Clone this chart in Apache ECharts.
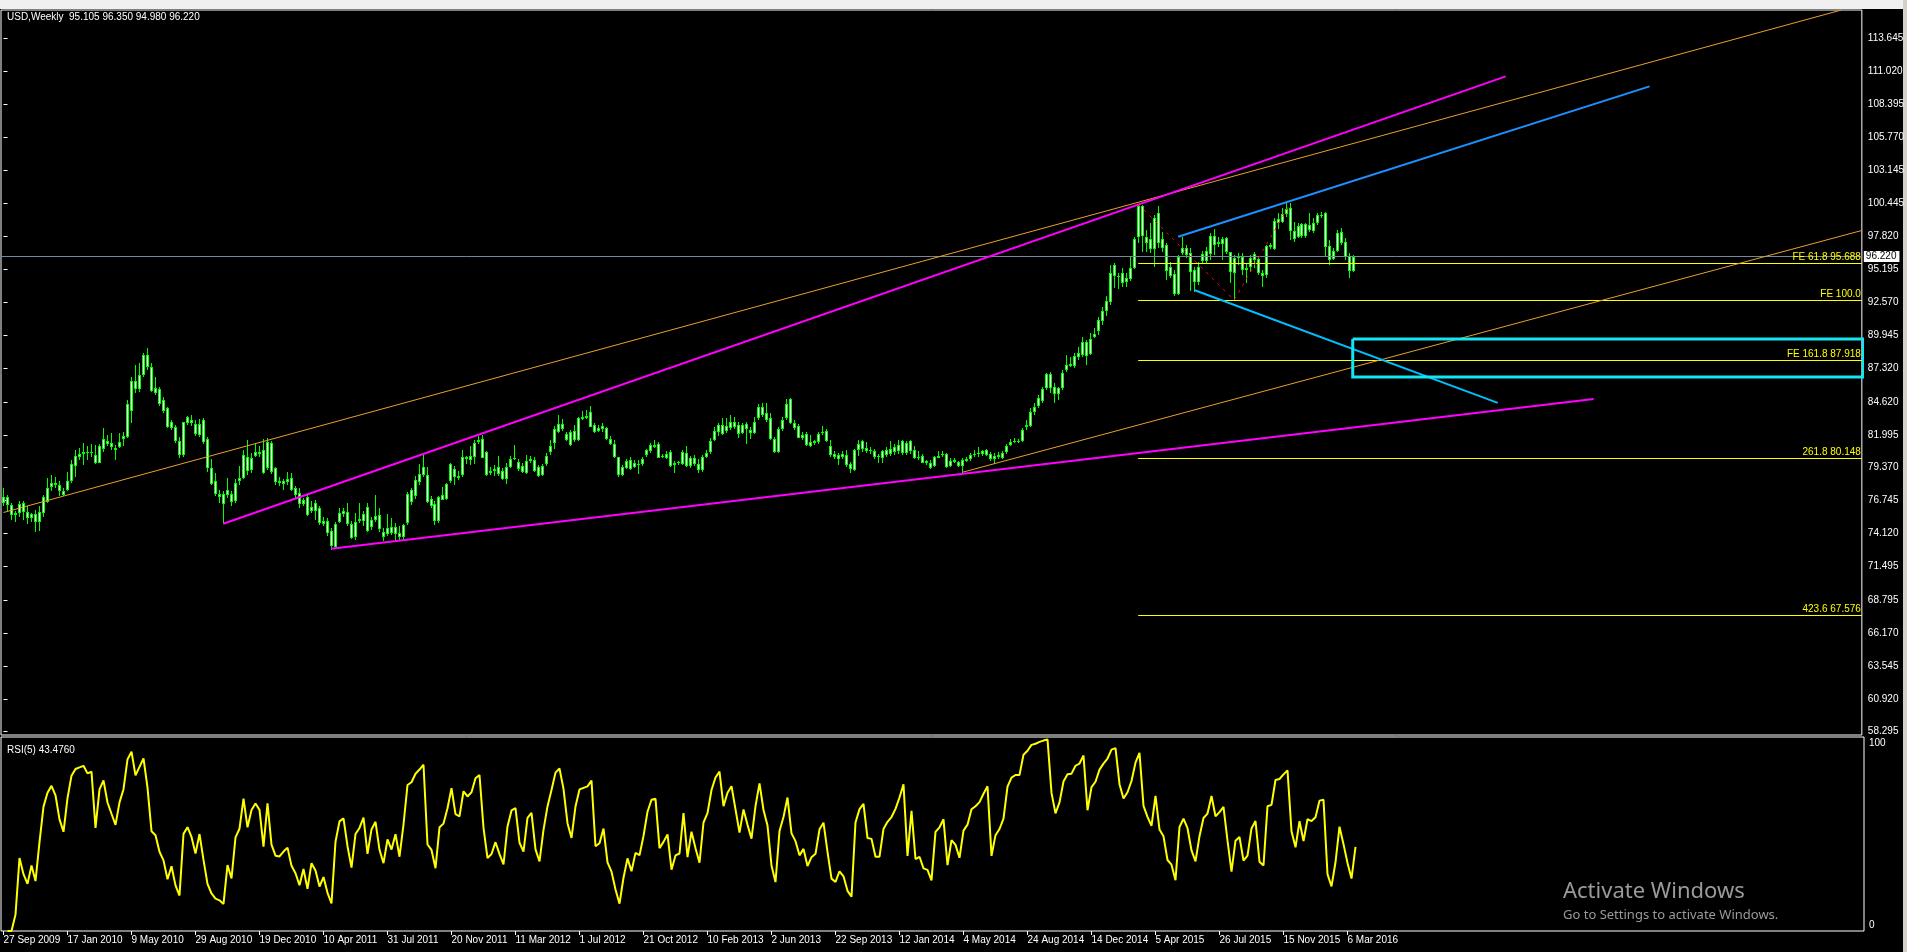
<!DOCTYPE html>
<html>
<head>
<meta charset="utf-8">
<script src="https://cdn.jsdelivr.net/npm/echarts@6/dist/echarts.min.js"></script>
<style>
html,body{margin:0;padding:0;background:#000;}
#chart{width:1907px;height:952px;}
</style>
</head>
<body>
<div id="chart"></div>
<script>
// ---- Data (USD index, weekly, 27 Sep 2009 .. 20 Mar 2016) ----
const dateLabels = ['27 Sep 2009','17 Jan 2010','9 May 2010','29 Aug 2010','19 Dec 2010','10 Apr 2011','31 Jul 2011','20 Nov 2011','11 Mar 2012','1 Jul 2012','21 Oct 2012','10 Feb 2013','2 Jun 2013','22 Sep 2013','12 Jan 2014','4 May 2014','24 Aug 2014','14 Dec 2014','5 Apr 2015','26 Jul 2015','15 Nov 2015','6 Mar 2016'];
const barsPerDateLabel = 16;
const priceTicks = [58.295,60.920,63.545,66.170,68.795,71.495,74.120,76.745,79.370,81.995,84.620,87.320,89.945,92.570,95.195,97.820,100.445,103.145,105.770,108.395,111.020,113.645];

const opens = [
76.54,77.02,76.35,75.61,75.74,76.54,75.82,75.39,75.66,75.07,
75.74,76.64,77.79,78.13,77.95,77.49,77.55,78.27,79.54,80.26,
80.42,80.60,80.50,80.36,79.78,80.84,81.53,81.32,80.90,81.00,
81.64,81.80,83.90,86.29,85.65,86.77,88.37,87.44,85.71,85.65,
84.78,84.11,82.52,82.60,81.53,80.34,82.97,83.18,82.84,81.99,
83.18,81.67,79.33,78.27,77.25,77.28,77.15,77.25,76.67,78.27,
78.53,80.26,79.15,80.31,80.63,80.79,79.33,81.32,79.33,78.27,
78.05,78.19,78.53,77.73,77.33,76.46,77.02,75.87,76.54,76.14,
74.86,75.13,74.33,73.00,75.07,75.66,75.82,74.89,73.80,75.08,
75.13,76.22,74.60,75.16,75.58,74.23,74.07,74.62,74.07,74.15,
73.80,74.94,76.59,77.07,78.19,78.77,78.77,76.86,76.46,75.13,
76.80,76.86,78.27,79.28,78.72,78.77,80.21,79.99,80.26,81.38,
81.64,80.60,79.12,79.12,79.41,79.14,78.45,79.46,80.05,79.81,
79.54,78.93,79.91,79.99,79.41,78.80,79.67,80.60,81.32,82.23,
82.84,82.04,82.20,81.59,81.54,83.26,83.32,82.65,82.78,82.52,
82.49,82.52,81.64,81.27,80.21,78.80,79.38,79.99,79.46,79.59,
79.67,80.34,80.66,80.98,81.24,80.21,80.18,80.60,79.59,79.73,
79.67,80.52,79.52,80.13,79.67,79.20,80.21,80.58,81.59,82.20,
82.78,82.31,82.52,83.02,82.78,82.17,82.84,82.39,82.17,83.32,
84.19,83.71,83.37,81.67,80.58,82.47,83.37,84.86,82.92,82.73,
81.77,82.07,81.11,81.32,81.38,82.12,82.31,81.11,80.45,80.05,
80.47,80.39,79.65,79.20,80.79,80.87,80.95,80.79,80.68,80.31,
80.18,80.34,80.42,80.58,80.66,80.52,81.32,80.66,80.79,80.23,
80.31,79.91,79.73,79.54,80.18,80.34,80.47,79.54,79.99,79.81,
79.54,79.94,80.07,80.39,80.45,80.45,80.39,80.47,80.07,80.21,
80.18,80.58,81.19,81.38,81.38,81.46,82.60,82.73,83.79,84.30,
84.72,85.71,86.82,85.84,85.26,85.76,87.17,87.51,87.51,88.18,
88.37,89.43,88.45,89.83,90.31,91.08,91.90,92.62,94.67,94.67,
94.88,94.16,94.40,95.33,97.75,100.25,97.75,97.59,96.79,99.66,
97.59,97.14,95.36,94.80,93.23,96.47,96.87,96.47,95.14,94.21,
95.89,95.89,96.42,97.88,97.19,97.19,97.67,96.55,94.88,96.07,
96.21,95.14,95.41,95.94,95.99,94.88,94.75,96.95,96.79,98.87,
99.00,99.61,100.06,98.28,97.80,98.79,97.86,98.33,98.28,98.92,
99.45,99.66,97.06,96.02,96.69,98.15,97.35,96.26,95.105];

const highs = [
77.73,77.20,76.54,75.87,76.67,76.67,76.27,75.79,76.00,76.27,
77.20,78.53,78.80,78.66,78.27,77.73,79.06,79.99,80.79,80.92,
81.32,81.06,81.27,81.19,81.27,82.52,81.99,82.12,81.19,82.12,
82.25,84.78,86.64,87.57,87.70,88.50,88.90,87.76,86.64,85.84,
85.04,84.19,83.18,82.78,81.85,83.05,83.50,83.58,83.18,83.24,
83.32,81.80,80.05,78.93,77.60,77.47,78.53,77.47,78.45,79.51,
80.79,81.59,80.52,81.32,81.06,81.64,81.72,81.53,79.46,78.66,
78.45,79.06,78.98,77.92,77.73,76.94,77.20,76.67,76.81,76.27,
75.47,75.34,74.54,75.07,76.14,76.14,76.54,75.08,75.74,76.54,
75.87,76.54,75.47,77.20,76.14,74.54,75.69,75.34,74.94,74.68,
74.89,77.39,77.73,78.72,79.67,80.39,79.41,77.07,76.67,77.07,
77.81,78.13,79.78,79.54,79.14,80.79,80.31,81.11,81.59,81.91,
81.99,80.66,79.46,79.59,80.31,79.33,79.73,80.31,81.19,80.05,
79.73,80.39,80.31,80.21,79.59,79.67,80.52,81.54,82.70,83.58,
83.24,82.25,82.39,82.78,83.45,83.93,83.98,84.30,82.97,82.78,
82.97,82.60,81.91,81.54,80.26,79.59,80.05,80.21,79.99,79.99,
80.21,80.84,81.32,81.54,81.38,80.47,80.66,80.74,79.94,79.94,
80.79,81.06,80.31,80.39,80.05,80.39,80.79,81.72,82.65,82.97,
83.32,83.32,83.58,83.45,83.05,82.97,83.05,82.65,83.40,84.46,
84.57,84.51,83.71,81.85,82.65,83.45,84.83,84.91,83.18,82.86,
82.25,82.25,81.99,81.59,82.25,82.70,82.44,81.59,80.66,80.52,
80.66,80.79,79.86,80.84,81.54,81.59,81.38,81.00,80.84,80.47,
80.79,81.00,81.46,81.27,81.54,81.54,81.46,81.54,81.11,80.66,
80.47,79.99,79.99,80.31,80.66,80.66,80.52,80.13,80.13,79.94,
80.13,80.21,80.52,80.79,81.00,80.79,80.84,80.58,80.52,80.58,
80.66,81.27,81.64,81.72,81.64,82.52,83.19,84.11,84.51,85.17,
85.84,86.96,87.04,86.11,85.84,87.17,88.37,88.23,88.50,89.03,
89.83,89.56,90.09,90.49,91.42,92.22,93.07,95.54,95.67,94.88,
95.28,94.88,96.21,97.80,100.41,100.33,98.33,98.87,99.53,100.25,
98.20,97.27,95.81,95.14,96.34,97.80,97.14,96.87,95.36,95.81,
96.69,97.00,98.07,98.39,97.80,97.80,97.80,96.61,96.34,96.53,
96.47,95.67,96.34,96.61,96.21,95.14,97.14,97.27,99.26,99.66,
100.06,100.46,100.46,99.00,98.87,98.92,98.92,99.66,99.26,99.66,
99.79,99.79,97.54,96.87,98.33,98.46,97.67,96.47,96.35];

const lows = [
76.27,75.87,75.21,75.07,75.47,75.21,74.89,75.07,74.22,74.28,
75.47,76.54,77.47,77.73,77.07,77.07,77.47,78.13,78.66,79.99,
79.59,79.99,80.26,79.67,79.73,80.58,81.11,80.74,79.99,80.92,
81.11,81.72,82.92,85.36,85.40,86.64,87.17,85.44,85.18,84.30,
83.71,82.52,82.38,81.32,80.12,80.26,82.78,82.70,81.91,81.85,
81.27,79.06,77.95,77.12,76.54,74.89,76.94,76.27,76.54,78.00,
78.45,78.80,78.93,80.21,80.26,78.88,79.20,78.88,78.00,77.87,
77.60,78.00,77.47,76.94,76.14,76.27,75.53,75.74,75.21,74.81,
74.68,73.93,72.82,72.87,74.94,75.47,74.68,73.67,73.61,74.94,
74.68,74.20,74.41,75.00,74.20,73.48,73.88,73.96,73.48,73.61,
73.61,74.81,76.40,76.86,78.00,78.66,76.54,76.14,74.81,74.94,
76.75,76.75,78.13,78.00,78.40,78.66,79.67,79.59,79.65,81.27,
80.13,78.74,78.80,78.72,78.72,78.35,78.08,79.33,79.99,79.14,
78.93,78.88,79.78,79.06,78.61,78.72,79.52,80.39,80.87,82.17,
82.33,81.46,81.11,81.38,81.46,83.18,83.24,82.60,82.17,82.25,
82.25,81.59,81.19,80.13,78.61,78.72,79.25,79.20,79.33,78.88,
79.52,80.21,80.52,80.90,80.13,80.13,80.05,79.46,78.98,79.59,
79.59,79.41,79.33,79.52,78.93,79.06,80.13,80.47,81.46,81.91,
81.99,82.12,82.39,82.44,81.72,82.07,81.27,81.64,82.07,83.18,
83.40,83.05,81.59,80.52,80.52,82.33,83.18,82.86,82.39,81.72,
81.59,81.06,81.00,81.19,81.27,81.99,81.38,80.21,80.05,79.59,
80.05,79.46,78.98,79.14,80.31,80.58,80.52,80.47,80.05,79.78,
79.78,80.21,80.31,80.39,80.47,80.39,80.39,80.47,80.05,79.99,
79.73,79.59,79.25,79.46,80.13,80.21,79.33,79.46,79.73,79.46,
78.93,79.83,79.94,80.21,80.26,80.31,80.31,79.94,79.67,80.10,
80.10,80.47,81.11,81.32,81.32,81.38,82.38,82.60,83.58,84.11,
84.51,85.57,85.31,84.51,84.77,85.57,87.04,87.44,87.30,87.97,
88.23,87.57,88.37,89.69,89.96,90.76,91.48,92.35,93.68,93.60,
93.82,93.82,94.29,95.25,97.27,96.61,96.61,96.47,95.41,96.90,
96.61,94.35,94.48,93.07,93.15,96.34,96.07,93.47,93.41,93.95,
95.62,95.73,95.94,96.34,97.00,95.94,96.42,94.08,92.75,95.54,
94.75,94.08,95.01,95.28,94.75,93.82,94.48,96.79,96.74,98.39,
98.87,99.40,97.54,97.40,97.67,97.67,97.67,98.20,98.07,98.73,
99.26,96.21,95.54,95.94,96.61,97.14,95.94,94.48,94.98];

const closes = [
77.02,76.35,75.61,75.74,76.46,75.82,75.34,75.66,75.02,75.82,
77.02,77.73,78.13,77.95,77.47,77.20,78.27,79.67,80.31,80.47,
80.60,80.50,80.58,79.78,81.11,81.64,81.22,81.00,80.79,81.40,
81.88,84.43,86.29,85.63,86.77,88.37,87.44,85.52,85.31,84.43,
83.93,82.60,83.00,81.53,80.39,83.00,83.40,82.92,82.04,82.84,
81.45,79.33,78.05,77.25,76.99,76.46,77.55,76.59,78.13,78.53,
80.34,79.12,80.18,80.63,80.42,78.98,81.45,79.06,78.19,78.13,
78.32,78.45,77.60,77.20,76.46,76.81,75.61,76.22,75.87,74.94,
75.13,74.14,73.08,74.86,75.79,75.93,74.89,73.75,75.00,75.26,
75.69,74.28,75.21,75.53,74.46,73.80,74.54,74.15,74.60,73.80,
74.81,77.28,77.55,78.40,78.88,79.46,76.59,76.27,75.08,76.99,
77.20,78.08,79.65,78.66,78.58,80.21,80.05,80.31,81.32,81.59,
80.18,78.80,78.93,79.28,78.85,78.45,79.46,80.05,80.13,79.28,
79.01,79.91,80.07,79.14,78.72,79.49,80.31,81.11,82.44,82.86,
82.44,81.59,81.14,82.33,83.32,83.42,83.50,83.79,82.25,82.33,
82.70,81.64,81.24,80.21,78.80,79.41,79.91,79.28,79.73,79.65,
80.07,80.74,81.16,81.19,80.18,80.31,80.45,79.54,79.78,79.81,
80.58,79.52,80.13,79.67,79.20,80.21,80.52,81.51,82.31,82.78,
82.07,82.70,83.05,82.60,82.07,82.78,82.44,82.12,83.05,84.19,
83.58,83.18,81.67,80.58,82.44,83.18,84.46,82.92,82.52,81.77,
81.99,81.14,81.38,81.46,82.07,82.25,81.51,80.39,80.21,80.39,
80.21,79.59,79.28,80.79,81.27,81.46,80.68,80.66,80.21,80.21,
80.66,80.79,80.87,81.00,81.19,81.46,80.52,81.46,80.13,80.18,
79.78,79.73,79.38,80.21,80.31,80.47,79.46,79.94,79.83,79.54,
79.99,80.10,80.39,80.45,80.52,80.66,80.79,80.05,80.31,80.39,
80.52,81.11,81.38,81.46,81.46,82.39,82.78,83.85,84.19,84.91,
85.65,86.82,85.76,85.23,85.71,86.96,87.57,87.62,88.29,88.50,
89.43,88.31,89.64,90.04,91.16,91.90,92.67,94.93,95.54,94.56,
94.13,94.53,95.33,97.59,100.25,97.88,97.27,96.79,99.26,97.32,
96.87,95.09,94.69,93.20,96.21,96.87,96.34,94.96,94.16,95.36,
96.42,96.69,97.86,97.14,97.35,97.59,96.55,94.96,96.07,96.21,
95.14,95.28,96.13,96.39,94.88,94.69,97.06,97.14,99.08,99.18,
99.61,99.98,98.28,97.59,98.65,97.86,98.79,98.73,98.87,99.50,
99.53,96.95,95.94,96.66,98.07,97.27,96.21,95.06,96.22];

// Drawn objects: [bar index, price] end points
const orangeUpper = [[0, 75.79], [460, 115.9]];
const orangeLower = [[240, 79.0], [465.1, 98.3]];
const magentaUpper = [[55, 74.89], [376, 110.6]];
const magentaLower = [[82, 72.9], [398, 84.85]];
const blueUpper = [[294, 97.8], [412, 109.8]];
const blueLower = [[298, 93.55], [374, 84.54]];
const fiboZigzag = [[284, 100.4], [308, 92.75], [322, 100.41]];
const targetBox = [[337.7, 89.64], [465.5, 86.61]];
const feStartBar = 284;
const feValues = [95.688, 92.718, 87.918, 80.148, 67.576];
const feTexts = ['FE 61.8 95.688', 'FE 100.0', 'FE 161.8 87.918', '261.8 80.148', '423.6 67.576'];
const lastPrice = 96.22;
const rsiPeriod = 5;

// ---- layout ----
const FONT = "'Liberation Sans', Arial, sans-serif";
const FS = 10;
const X_MIN = -0.625, X_MAX = 465.125;

function rsiOf(c, n) {            // RSI as MetaTrader computes it (Wilder smoothing)
  const out = [null];
  let ag = 0, al = 0;
  for (let i = 1; i < c.length; i++) {
    const d = c[i] - c[i - 1];
    const g = d > 0 ? d : 0, l = d < 0 ? -d : 0;
    const k = Math.min(i, n);
    ag = (ag * (k - 1) + g) / k;
    al = (al * (k - 1) + l) / k;
    out.push(al === 0 ? 100 : 100 - 100 / (1 + ag / al));
  }
  return out;
}
const rsi = rsiOf(closes, rsiPeriod);

const candleData = opens.map((o, i) => [i, o, closes[i], lows[i], highs[i]]);
const dateTickIdx = dateLabels.map((_, i) => i * barsPerDateLabel);

function renderCandle(params, api) {
  const x = api.value(0);
  const pO = api.coord([x, api.value(1)]);
  const pC = api.coord([x, api.value(2)]);
  const pL = api.coord([x, api.value(3)]);
  const pH = api.coord([x, api.value(4)]);
  const cx = Math.floor(pO[0]) + 0.5;
  const top = Math.round(Math.min(pO[1], pC[1]));
  const bh = Math.max(Math.round(Math.max(pO[1], pC[1])) - top, 1);
  const children = [
    {type: 'line', shape: {x1: cx, y1: Math.round(pH[1]), x2: cx, y2: Math.round(pL[1])}, style: {stroke: '#00ff00', lineWidth: 1}},
    {type: 'rect', shape: {x: cx - 1.5, y: top, width: 3, height: bh}, style: {fill: '#00ff00'}}
  ];
  if (bh > 2) children.push({type: 'rect', shape: {x: cx - 0.5, y: top + 1, width: 1, height: bh - 2}, style: {fill: '#ffffff'}});
  return {type: 'group', children};
}

function trend(data, color, width, type) {
  return {type: 'line', xAxisIndex: 0, yAxisIndex: 0, data, symbol: 'none', silent: true, z: 5,
    lineStyle: {color, width, type: type || 'solid'}, clip: true};
}

const boxPath = [
  [targetBox[0][0], targetBox[0][1]], [targetBox[1][0], targetBox[0][1]],
  [targetBox[1][0], targetBox[1][1]], [targetBox[0][0], targetBox[1][1]],
  [targetBox[0][0], targetBox[0][1]]
];

const feMarks = feValues.map((v, i) => [
  {coord: [feStartBar, v], lineStyle: {color: '#ffff00', width: 1, type: 'solid'},
   label: {show: true, position: 'insideEndTop', formatter: feTexts[i], color: '#ffff00', fontSize: FS, fontFamily: FONT, distance: 1}},
  {coord: [X_MAX, v]}
]);
feMarks.push({yAxis: lastPrice, lineStyle: {color: '#778899', width: 1, type: 'solid'},
  label: {show: true, position: 'end', formatter: lastPrice.toFixed(3), color: '#000', backgroundColor: '#fff',
          padding: [1, 3, 0, 2], fontSize: FS, fontFamily: FONT, distance: 2}});

const chart = echarts.init(document.getElementById('chart'), null, {renderer: 'canvas'});
chart.setOption({
  backgroundColor: '#000',
  animation: false,
  grid: [
    {left: 1, right: 43, top: 10, height: 725, show: true, borderColor: '#ffffff', borderWidth: 1, backgroundColor: '#000'},
    {left: 1, right: 43, top: 737, height: 194, show: true, borderColor: '#ffffff', borderWidth: 1, backgroundColor: '#000'}
  ],
  xAxis: [
    {type: 'value', gridIndex: 0, min: X_MIN, max: X_MAX, show: false},
    {type: 'value', gridIndex: 1, min: X_MIN, max: X_MAX, splitLine: {show: false}, axisLine: {show: false},
     axisTick: {show: true, customValues: dateTickIdx, length: 4, lineStyle: {color: '#ffffff'}},
     axisLabel: {customValues: dateTickIdx, formatter: v => dateLabels[Math.round(v / barsPerDateLabel)],
                 color: '#ffffff', fontSize: FS, fontFamily: FONT, align: 'left', margin: 4}}
  ],
  yAxis: [
    {type: 'value', gridIndex: 0, position: 'right', min: 58.03, max: 115.90, splitLine: {show: false}, axisLine: {show: false},
     axisTick: {show: true, customValues: priceTicks, length: 4, lineStyle: {color: '#ffffff'}},
     axisLabel: {customValues: priceTicks, formatter: v => v.toFixed(3), color: '#ffffff', fontSize: FS, fontFamily: FONT, margin: 6}},
    {type: 'value', gridIndex: 1, min: 0, max: 100, show: false}
  ],
  series: [
    {type: 'custom', xAxisIndex: 0, yAxisIndex: 0, renderItem: renderCandle, data: candleData,
     encode: {x: 0, y: [1, 2, 3, 4]}, clip: true, silent: true, z: 3},
    trend(orangeUpper, '#e8a030', 1),
    trend(orangeLower, '#e8a030', 1),
    trend(magentaUpper, '#ff00ff', 2),
    trend(magentaLower, '#ff00ff', 2),
    trend(blueUpper, '#1e90ff', 2),
    trend(blueLower, '#00bfff', 2),
    {type: 'line', xAxisIndex: 0, yAxisIndex: 0, data: fiboZigzag, symbol: 'none', silent: true, z: 6,
     lineStyle: {color: '#ff0000', width: 1, type: [3, 5]},
     markLine: {symbol: ['none', 'none'], silent: true, animation: false, data: feMarks}},
    {type: 'line', xAxisIndex: 0, yAxisIndex: 0, data: boxPath, symbol: 'none', silent: true, z: 6, clip: false,
     lineStyle: {color: '#12e6f2', width: 3, join: 'miter'}},
    {type: 'line', xAxisIndex: 1, yAxisIndex: 1, data: rsi.map((v, i) => [i, v]), symbol: 'none', silent: true,
     lineStyle: {color: '#ffff00', width: 2}}
  ],
  graphic: [
    {type: 'rect', left: 0, top: 0, shape: {width: 1907, height: 9}, style: {fill: '#f0f0f0'}, silent: true},
    {type: 'rect', left: 1903, top: 0, shape: {width: 4, height: 952}, style: {fill: '#d4d0c8'}, silent: true},
    {type: 'text', left: 7, top: 12, style: {text: 'USD,Weekly  95.105 96.350 94.980 96.220', fill: '#ffffff', font: FS + 'px ' + FONT}},
    {type: 'text', left: 7, top: 745, style: {text: 'RSI(5) 43.4760', fill: '#ffffff', font: FS + 'px ' + FONT}},
    {type: 'text', left: 1869, top: 738, style: {text: '100', fill: '#ffffff', font: FS + 'px ' + FONT}},
    {type: 'text', left: 1869, top: 920, style: {text: '0', fill: '#ffffff', font: FS + 'px ' + FONT}},
    {type: 'text', left: 1563, top: 881, style: {text: 'Activate Windows', fill: '#9a9a9a', font: '22px "Noto Sans", "Open Sans", sans-serif'}},
    {type: 'text', left: 1563, top: 909, style: {text: 'Go to Settings to activate Windows.', fill: '#9a9a9a', font: '13px "Noto Sans", "Open Sans", sans-serif'}}
  ]
});
</script>
</body>
</html>
